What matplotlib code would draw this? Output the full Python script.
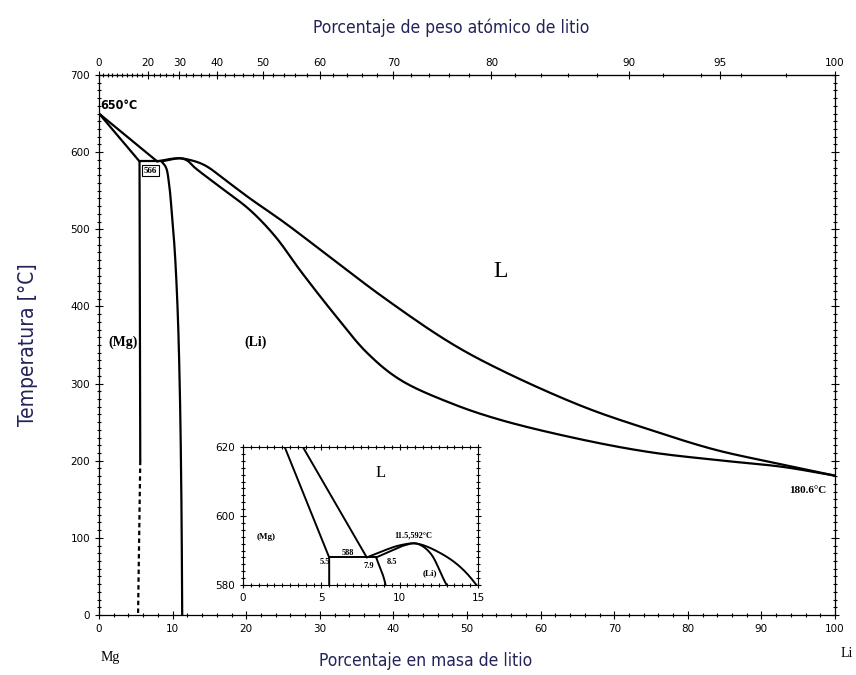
import numpy as np
import matplotlib
matplotlib.use("Agg")
import matplotlib.pyplot as plt
from matplotlib.ticker import MultipleLocator, FixedLocator

# ---------------- data (wt % Li, temperature °C) ----------------
mg_liq_x = [0.0, 7.9]
mg_liq_y = [650, 588]
mg_sol_x = [0.0, 5.5]
mg_sol_y = [650, 588]
eut_x = [5.5, 8.5]
eut_y = [588, 588]
mg_solvus_x = [5.5, 5.6]
mg_solvus_y = [588, 200]
mg_solvus_dash_x = [5.6, 5.3]
mg_solvus_dash_y = [200, 0]
li_solvus_x = [8.5, 9.1, 9.5, 9.9, 10.3, 10.7, 11.0, 11.2, 11.3]
li_solvus_y = [588, 580, 560, 520, 470, 390, 280, 140, 0]
liq_x = [7.9, 9.0, 10.0, 11.1, 12.5, 13.8, 14.9, 17.0, 20.5, 25.0, 29.6, 38.6,
         47.7, 54.5, 65.8, 74.9, 83.8, 92.9, 100.0]
liq_y = [588, 590, 591.5, 592, 589.5, 585.5, 580, 565, 540, 510, 477, 412,
         353, 318, 270, 240, 214, 195, 180.6]
sol_x = [8.5, 9.5, 10.3, 11.1, 12.0, 13.0, 16.0, 20.5, 24.0, 27.3, 31.8, 36.4,
         40.9, 47.7, 54.5, 65.8, 74.9, 83.8, 92.9, 100.0]
sol_y = [588, 590, 591.5, 592, 589, 580, 558, 525, 490, 447, 392, 340,
         305, 275, 253, 227, 211, 201, 192, 180.6]

x_ticks = [0, 10, 20, 30, 40, 50, 60, 70, 80, 90, 100]
y_ticks = [0, 100, 200, 300, 400, 500, 600, 700]
at_ticks = [0, 20, 30, 40, 50, 60, 70, 80, 90, 95, 100]
inset_x_ticks = [0, 5, 10, 15]
inset_y_ticks = [580, 600, 620]

M_LI, M_MG = 6.941, 24.305


def wt_to_at(w):
    w = np.clip(np.asarray(w, dtype=float), 0, 100)
    a = w / M_LI
    b = (100 - w) / M_MG
    return 100 * a / np.where(a + b == 0, 1, a + b)


def at_to_wt(at):
    at = np.clip(np.asarray(at, dtype=float), 0, 100)
    a = at * M_LI
    b = (100 - at) * M_MG
    return 100 * a / np.where(a + b == 0, 1, a + b)


def smooth_path(xs, ys, n=24):
    """Centripetal Catmull-Rom rendering through the read points (x scaled)."""
    P = np.column_stack([np.asarray(xs, float) * 7.36, np.asarray(ys, float) * 0.771])
    if len(P) < 3:
        return np.asarray(xs, float), np.asarray(ys, float)
    P = np.vstack([2 * P[0] - P[1], P, 2 * P[-1] - P[-2]])
    out = [P[1]]
    for i in range(1, len(P) - 2):
        p0, p1, p2, p3 = P[i - 1], P[i], P[i + 1], P[i + 2]
        t0 = 0.0
        t1 = t0 + np.linalg.norm(p1 - p0) ** 0.5 + 1e-9
        t2 = t1 + np.linalg.norm(p2 - p1) ** 0.5 + 1e-9
        t3 = t2 + np.linalg.norm(p3 - p2) ** 0.5 + 1e-9
        for t in np.linspace(t1, t2, n)[1:]:
            a1 = (t1 - t) / (t1 - t0) * p0 + (t - t0) / (t1 - t0) * p1
            a2 = (t2 - t) / (t2 - t1) * p1 + (t - t1) / (t2 - t1) * p2
            a3 = (t3 - t) / (t3 - t2) * p2 + (t - t2) / (t3 - t2) * p3
            b1 = (t2 - t) / (t2 - t0) * a1 + (t - t0) / (t2 - t0) * a2
            b2 = (t3 - t) / (t3 - t1) * a2 + (t - t1) / (t3 - t1) * a3
            out.append((t2 - t) / (t2 - t1) * b1 + (t - t1) / (t2 - t1) * b2)
    out = np.array(out)
    return out[:, 0] / 7.36, out[:, 1] / 0.771


label_color = "#23235a"
fig = plt.figure(figsize=(8.56, 6.75), dpi=100)
ax = fig.add_axes([0.1157, 0.0889, 0.8598, 0.8000])


def draw_curves(a, lw=1.6):
    kw = dict(color="black", lw=lw, solid_capstyle="round", solid_joinstyle="round")
    a.plot(mg_liq_x, mg_liq_y, **kw)
    a.plot(mg_sol_x, mg_sol_y, **kw)
    a.plot(eut_x, eut_y, **kw)
    a.plot(mg_solvus_x, mg_solvus_y, **kw)
    a.plot(mg_solvus_dash_x, mg_solvus_dash_y, color="black", lw=lw, ls=(0, (2, 1.5)))
    a.plot(*smooth_path(li_solvus_x, li_solvus_y), **kw)
    a.plot(*smooth_path(liq_x, liq_y), **kw)
    a.plot(*smooth_path(sol_x, sol_y), **kw)


draw_curves(ax)
ax.set_xlim(0, 100)
ax.set_ylim(0, 700)
ax.xaxis.set_major_locator(FixedLocator(x_ticks))
ax.yaxis.set_major_locator(FixedLocator(y_ticks))
ax.xaxis.set_minor_locator(MultipleLocator(2))
ax.yaxis.set_minor_locator(MultipleLocator(10))
ax.tick_params(which="both", direction="inout", labelsize=7.5, width=0.8, colors="black")
ax.tick_params(which="major", length=6)
ax.tick_params(which="minor", length=3)
ax.tick_params(axis="y", which="both", right=True, labelright=False)
for s in ax.spines.values():
    s.set_linewidth(0.9)

sec = ax.secondary_xaxis("top", functions=(wt_to_at, at_to_wt))
sec.xaxis.set_major_locator(FixedLocator(at_ticks))
sec.xaxis.set_minor_locator(FixedLocator(list(range(0, 100, 2))))
sec.tick_params(which="both", direction="inout", labelsize=7.5, width=0.8)
sec.tick_params(which="major", length=6, pad=2)
sec.tick_params(which="minor", length=3)

lab = dict(color=label_color, family="DejaVu Sans", fontstretch="condensed",
           ha="center", va="center")
fig.text(451 / 856, 1 - 28 / 675, "Porcentaje de peso atómico de litio", fontsize=12.5, **lab)
fig.text(426 / 856, 1 - 661 / 675, "Porcentaje en masa de litio", fontsize=12.5, **lab)
fig.text(28 / 856, 1 - 345 / 675, "Temperatura [°C]", fontsize=15, rotation=90, **lab)

serif = "Liberation Serif"
ax.text(0.1, 661, "650°C", fontsize=9, family="DejaVu Sans", fontweight="bold",
        fontstretch="condensed", va="center")
ax.text(7.0, 576, "566", fontsize=6.5, family=serif, fontweight="bold", ha="center", va="center",
        bbox=dict(boxstyle="square,pad=0.2", fc="white", ec="black", lw=0.8))
ax.text(3.2, 354, "(Mg)", fontsize=10, family=serif, fontweight="bold", ha="center", va="center")
ax.text(21.2, 354, "(Li)", fontsize=10, family=serif, fontweight="bold", ha="center", va="center")
ax.text(54.5, 445, "L", fontsize=17, family=serif, ha="center", va="center")
ax.text(98.8, 162, "180.6°C", fontsize=8, family=serif, fontweight="bold", ha="right", va="center")
ax.text(1.5, -55, "Mg", fontsize=10, family=serif, ha="center", va="center")
ax.text(100.8, -50, "Li", fontsize=10, family=serif, ha="left", va="center", clip_on=False)

# ---------------- inset ----------------
ins = fig.add_axes([0.2839, 0.1333, 0.2745, 0.2044])
draw_curves(ins, lw=1.4)
ins.set_xlim(0, 15)
ins.set_ylim(580, 620)
ins.xaxis.set_major_locator(FixedLocator(inset_x_ticks))
ins.yaxis.set_major_locator(FixedLocator(inset_y_ticks))
ins.xaxis.set_minor_locator(MultipleLocator(0.5))
ins.yaxis.set_minor_locator(MultipleLocator(2))
ins.tick_params(which="both", direction="inout", labelsize=7.5, width=0.8, top=True, right=True)
ins.tick_params(which="major", length=5)
ins.tick_params(which="minor", length=2.5)
for s in ins.spines.values():
    s.set_linewidth(0.8)
ins.text(8.8, 612.4, "L", fontsize=12, family=serif, ha="center", va="center")
ins.text(1.5, 594, "(Mg)", fontsize=6.5, family=serif, fontweight="bold", ha="center", va="center")
ins.text(5.2, 586.7, "5.5", fontsize=6, family=serif, fontweight="bold", ha="center", va="center")
ins.text(6.7, 589.4, "588", fontsize=6, family=serif, fontweight="bold", ha="center", va="center")
ins.text(8.0, 585.5, "7.9", fontsize=6, family=serif, fontweight="bold", ha="center", va="center")
ins.text(9.5, 586.7, "8.5", fontsize=6, family=serif, fontweight="bold", ha="center", va="center")
ins.text(10.9, 594.3, "11.5,592°C", fontsize=6, family=serif, fontweight="bold", ha="center", va="center")
ins.text(11.9, 583.4, "(Li)", fontsize=6.5, family=serif, fontweight="bold", ha="center", va="center")

fig.savefig("out.png", dpi=100, facecolor="white")
